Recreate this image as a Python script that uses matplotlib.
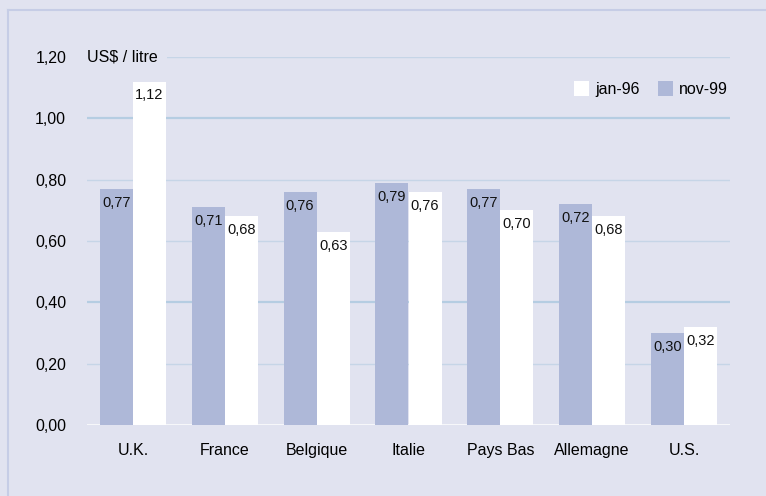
import numpy as np
import matplotlib.pyplot as plt
from matplotlib.lines import Line2D

countries = ['U.K.', 'France', 'Belgique', 'Italie', 'Pays Bas', 'Allemagne', 'U.S.']
nov99 = [0.77, 0.71, 0.76, 0.79, 0.77, 0.72, 0.30]
jan96 = [1.12, 0.68, 0.63, 0.76, 0.70, 0.68, 0.32]
yticks = [0.0, 0.2, 0.4, 0.6, 0.8, 1.0, 1.2]

bg = '#e1e3f0'
blue = '#aeb8d8'
plt.rcParams['font.family'] = ['Liberation Sans', 'DejaVu Sans']

fig = plt.figure(figsize=(7.66, 4.96), dpi=100, facecolor=bg)
# thin frame lines at top and left
fig.add_artist(Line2D([8 / 766, 8 / 766], [0, 1 - 10 / 496], transform=fig.transFigure,
                      color='#c6cde6', lw=1.5))
fig.add_artist(Line2D([8 / 766, 1], [1 - 10 / 496, 1 - 10 / 496], transform=fig.transFigure,
                      color='#c6cde6', lw=1.5))

ax = fig.add_axes([87 / 766, 71 / 496, 643 / 766, 368 / 496])
ax.set_facecolor(bg)

ind = np.arange(len(countries))
w = 0.36
b1 = ax.bar(ind - w / 2, nov99, w, color=blue, zorder=3, label='nov-99')
b2 = ax.bar(ind + w / 2, jan96, w, color='white', zorder=3, label='jan-96')

for bars, vals in ((b1, nov99), (b2, jan96)):
    for r, v in zip(bars, vals):
        ax.annotate(('%.2f' % v).replace('.', ','), (r.get_x() + r.get_width() / 2, v),
                    xytext=(0, -10), textcoords='offset points', ha='center', va='center',
                    fontsize=10.5, color='#111111', zorder=4)

ax.set_xlim(-0.5, 6.5)
ax.set_ylim(0, 1.2)
ax.set_yticks(yticks)
ax.set_yticklabels([('%.2f' % t).replace('.', ',') for t in yticks], fontsize=11.5)
ax.set_xticks(ind)
ax.set_xticklabels(countries, fontsize=11.5)
ax.tick_params(length=0)
ax.tick_params(axis='y', pad=15)
ax.tick_params(axis='x', pad=13)
for s in ax.spines.values():
    s.set_visible(False)

ax.yaxis.grid(True, color='#c6d5e7', lw=1, zorder=1)
for t, gl in zip(yticks, ax.get_ygridlines()):
    if t in (0.4, 1.0):
        gl.set_linewidth(1.6)
        gl.set_color('#b5cde2')
ax.axhline(0, color='white', lw=1.8, zorder=2)

ax.text(-0.5, 1.2, 'US$ / litre', fontsize=11.5, ha='left', va='center', zorder=5,
        bbox=dict(facecolor=bg, edgecolor='none', pad=7))

h, l = ax.get_legend_handles_labels()
ax.legend(h[::-1], l[::-1], loc='upper right', bbox_to_anchor=(0.997, 0.935), ncol=2,
          frameon=False, fontsize=11.5, handlelength=0.95, handleheight=1.05,
          handletextpad=0.4, columnspacing=1.1, borderaxespad=0, borderpad=0)

plt.savefig('out.png', dpi=100, facecolor=bg)
